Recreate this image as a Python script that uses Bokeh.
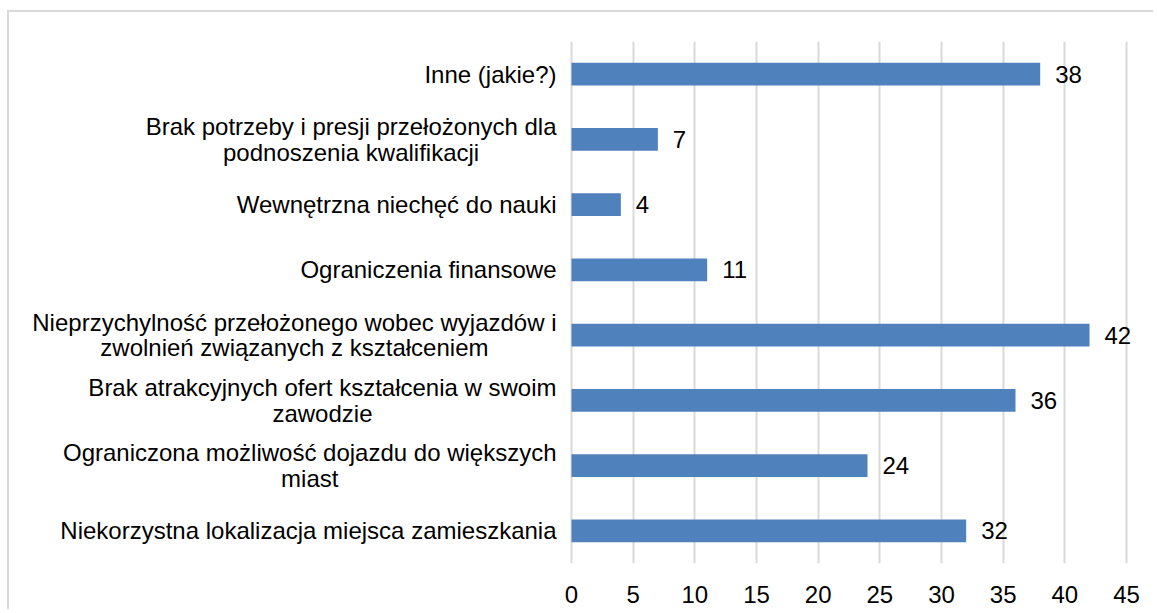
from bokeh.plotting import figure
from bokeh.models import ColumnDataSource, FactorRange, Range1d, FixedTicker, LabelSet, Label
from bokeh.embed import file_html
from bokeh.resources import INLINE
from bokeh.core.properties import value

# categories from bottom to top
categories = [
    "Niekorzystna lokalizacja miejsca zamieszkania",
    "Ograniczona możliwość dojazdu do większych\nmiast",
    "Brak atrakcyjnych ofert kształcenia w swoim\nzawodzie",
    "Nieprzychylność przełożonego wobec wyjazdów i\nzwolnień związanych z kształceniem",
    "Ograniczenia finansowe",
    "Wewnętrzna niechęć do nauki",
    "Brak potrzeby i presji przełożonych dla\npodnoszenia kwalifikacji",
    "Inne (jakie?)",
]
values = [32, 24, 36, 42, 11, 4, 7, 38]
x_ticks = [0, 5, 10, 15, 20, 25, 30, 35, 40, 45]

FONT = "Liberation Sans"
BAR = "#4F81BD"
GRID = "#D9D9D9"

src = ColumnDataSource(dict(cat=categories, val=values, lab=[str(v) for v in values]))

# the plotting frame also holds the category-label column on the left
# and room for the value labels on the right (grid only at 0..45)
p = figure(
    width=1146, height=599,
    y_range=FactorRange(factors=categories),
    x_range=Range1d(-45.57, 47.35),
    output_backend="svg", toolbar_location=None,
    min_border_left=0, min_border_right=0,
    min_border_top=29, min_border_bottom=48,
)
p.styles = {
    "margin-left": "7px", "margin-top": "10px",
    "border-left": "2px solid #D9D9D9", "border-top": "2px solid #D9D9D9",
}
p.outline_line_color = None
p.background_fill_color = "white"
p.border_fill_color = "white"

p.hbar(y="cat", right="val", left=0, height=0.35, source=src,
       fill_color=BAR, line_color=None)

labels = LabelSet(x="val", y="cat", text="lab", source=src, x_offset=15,
                  text_align="left", text_baseline="middle",
                  text_font=value(FONT), text_font_size="24px",
                  text_color="#000000", level="overlay")
p.add_layout(labels)

# category labels: block right-aligned next to the value axis origin,
# lines centred within the block (y = factor's centre on the categorical range)
for i, cat in enumerate(categories):
    p.add_layout(Label(x=0, y=i + 0.5, x_offset=-15, text=cat,
                       anchor="center_right", text_align="center",
                       text_font=FONT, text_font_size="24px",
                       text_color="#000000", text_line_height=0.95,
                       level="overlay"))

p.xaxis.ticker = FixedTicker(ticks=x_ticks)
p.xaxis.axis_line_color = None
p.xaxis.major_tick_line_color = None
p.xaxis.minor_tick_line_color = None
p.xaxis.major_label_text_font = FONT
p.xaxis.major_label_text_font_size = "24px"
p.xaxis.major_label_text_color = "#000000"
p.xaxis.major_label_standoff = 16

p.yaxis.visible = False

p.xgrid.grid_line_color = GRID
p.xgrid.grid_line_width = 2
p.ygrid.grid_line_color = None

open("out.html", "w").write(file_html(p, INLINE))
